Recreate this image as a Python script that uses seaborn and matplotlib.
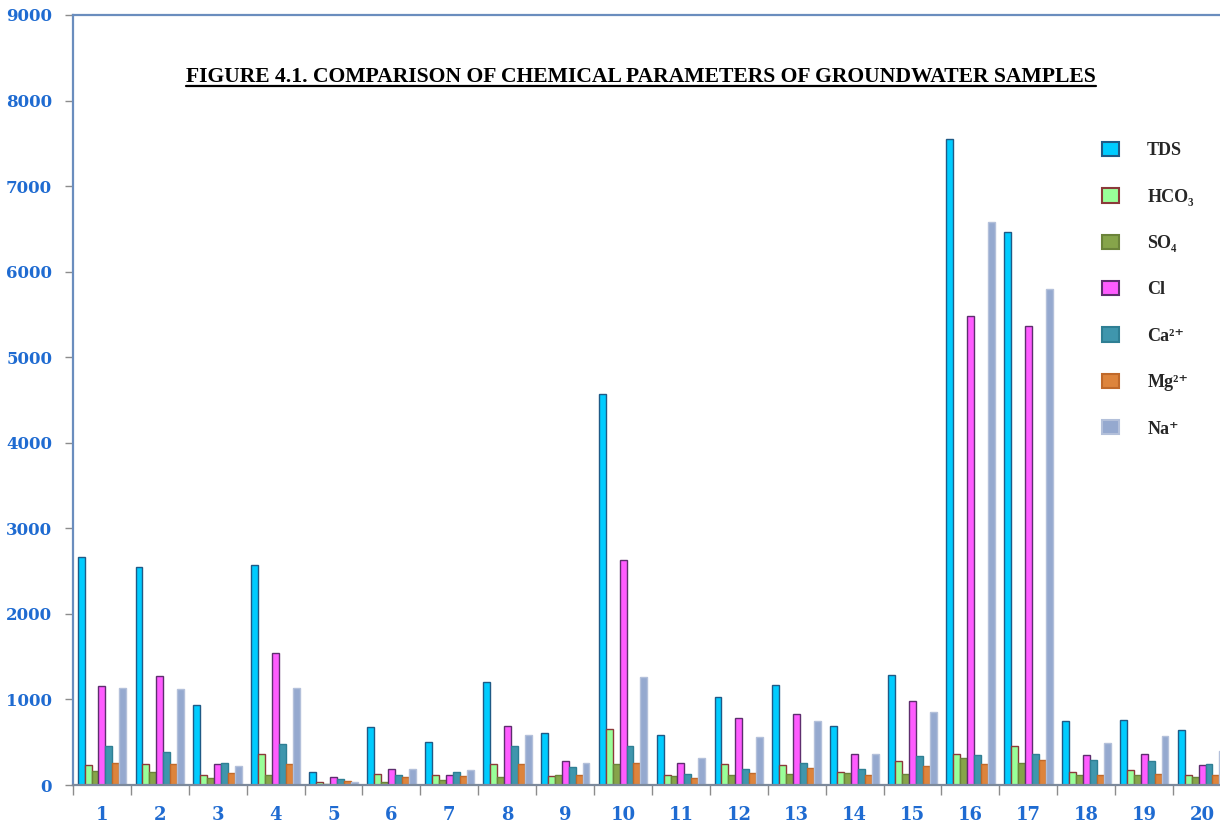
import numpy as np
import pandas as pd
import matplotlib
matplotlib.use("Agg")
import matplotlib.pyplot as plt
from matplotlib.patches import Patch
from matplotlib.lines import Line2D
import seaborn as sns

samples = [str(i) for i in range(1, 21)]
params = ["TDS", "HCO₃", "SO₄", "Cl", "Ca²⁺", "Mg²⁺", "Na⁺"]

tds  = [2670, 2544, 931, 2575, 156, 674, 499, 1204, 608, 4575, 584, 1032, 1173, 686, 1286, 7550, 6465, 744, 764, 643]
hco3 = [234, 245, 113, 362, 35, 132, 117, 242, 109, 651, 121, 245, 234, 156, 281, 362, 456, 156, 175, 121]
so4  = [168, 156, 78, 113, 16, 39, 62, 90, 121, 245, 101, 121, 132, 144, 132, 319, 257, 113, 121, 90]
cl   = [1161, 1274, 245, 1547, 97, 187, 121, 686, 284, 2630, 257, 787, 830, 366, 982, 5482, 5360, 355, 366, 234]
ca   = [456, 390, 257, 479, 70, 121, 156, 456, 210, 456, 132, 187, 257, 187, 343, 355, 366, 288, 281, 245]
mg   = [257, 245, 144, 245, 51, 90, 109, 245, 113, 257, 78, 144, 199, 121, 222, 245, 288, 121, 132, 121]
na   = [1130, 1118, 222, 1130, 35, 187, 175, 584, 257, 1262, 319, 565, 744, 366, 853, 6580, 5795, 491, 577, 400]

series = [tds, hco3, so4, cl, ca, mg, na]
face_colors = ["#00CCFF", "#99FF99", "#86A44A", "#FF5CFF", "#3F96AD", "#DD843C", "#95A9CF"]
edge_colors = ["#1F5A86", "#8B3A3A", "#6B833A", "#5E2E6E", "#2F7F94", "#C0692A", "#B3C0DA"]

yticks = [0, 1000, 2000, 3000, 4000, 5000, 6000, 7000, 8000, 9000]
title = "FIGURE 4.1. COMPARISON OF CHEMICAL PARAMETERS OF GROUNDWATER SAMPLES"

rows = []
for p, vals in zip(params, series):
    for s, v in zip(samples, vals):
        rows.append({"sample": s, "param": p, "value": v})
df = pd.DataFrame(rows)

sns.set_theme(style="white")
plt.rcParams["font.family"] = ["DejaVu Serif"]

fig = plt.figure(figsize=(12.2, 8.25), dpi=100)
ax = fig.add_axes([73 / 1220, 40 / 825, 1158 / 1220, 770 / 825])

sns.barplot(data=df, x="sample", y="value", hue="param", hue_order=params,
            order=samples, palette=face_colors, width=0.84, ax=ax,
            linewidth=1.0, saturation=1, legend=False, errorbar=None)

for cont, ec in zip(ax.containers, edge_colors):
    for bar in cont:
        bar.set_edgecolor(ec)
        bar.set_linewidth(1.0)

ax.set_xlim(-0.5, 19.5)
ax.set_ylim(0, 9000)
ax.set_yticks(yticks)
ax.set_yticklabels([str(t) for t in yticks])
ax.set_xlabel("")
ax.set_ylabel("")

tick_color = "#1F6BD1"
ax.tick_params(axis="y", which="major", direction="out", length=6, width=1,
               color="#8C8C8C", pad=9, labelsize=12, labelcolor=tick_color, left=True)
ax.set_xticks(np.arange(-0.5, 20, 1), minor=True)
ax.tick_params(axis="x", which="major", length=0, pad=15, labelsize=13, labelcolor=tick_color)
ax.tick_params(axis="x", which="minor", direction="out", length=7, width=1,
               color="#8C8C8C", bottom=True)
for lab in ax.get_xticklabels() + ax.get_yticklabels():
    lab.set_fontweight("bold")
    lab.set_family(["DejaVu Serif"])

for side in ["left", "top", "right"]:
    ax.spines[side].set_color("#6A8DBE")
    ax.spines[side].set_linewidth(1.6)
ax.spines["bottom"].set_color("#7D8A9C")
ax.spines["bottom"].set_linewidth(1.6)
ax.grid(False)

# Title, underlined
t = fig.text(641 / 1220, 1 - 77 / 825, title, ha="center", va="center",
             fontsize=15.6, fontweight="bold", family=["Liberation Serif", "DejaVu Serif"],
             color="black")
fig.canvas.draw()
bb = t.get_window_extent(renderer=fig.canvas.get_renderer())
inv = fig.transFigure.inverted()
(x0, y0), (x1, y1) = inv.transform([(bb.x0, bb.y0), (bb.x1, bb.y1)])
fig.add_artist(Line2D([x0, x1], [y0 + 0.001, y0 + 0.001], transform=fig.transFigure,
                      color="black", linewidth=1.6))

# Legend
handles = [Patch(facecolor=fc, edgecolor=ec, linewidth=1.5) for fc, ec in zip(face_colors, edge_colors)]
leg = fig.legend(handles, params, loc="upper left",
                 bbox_to_anchor=(1093 / 1220, 1 - 133 / 825),
                 frameon=False, labelspacing=1.6,
                 handlelength=0.95, handleheight=0.85, handletextpad=1.55, borderpad=0,
                 prop={"family": ["Liberation Serif", "DejaVu Serif"], "weight": "bold", "size": 13})

fig.savefig("out.png", dpi=100)
